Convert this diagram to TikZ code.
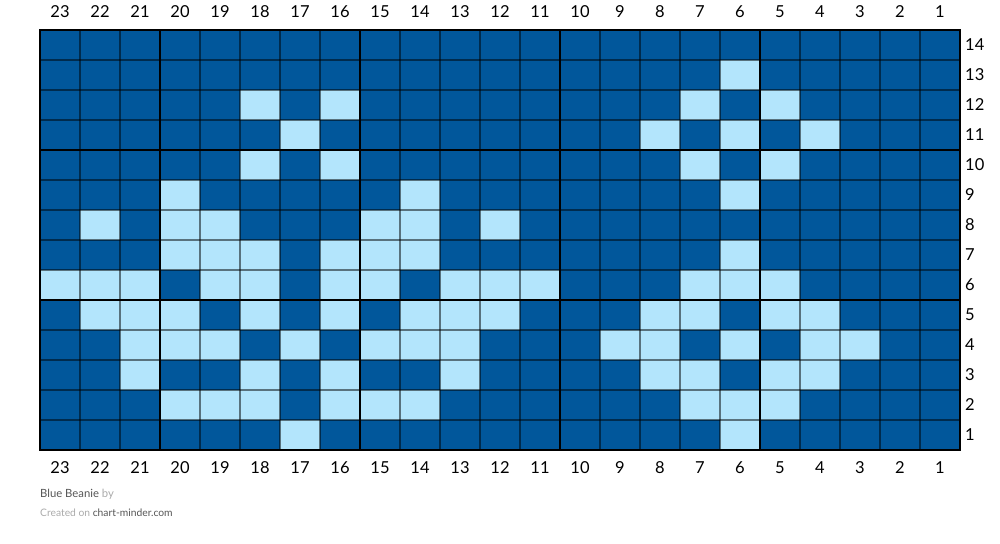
\documentclass[tikz,border=0pt]{standalone}
\usepackage{fontspec}
\setmainfont{Lato}
\definecolor{beaniedark}{HTML}{01579B}
\definecolor{beanielight}{HTML}{B3E5FC}
\definecolor{footdark}{HTML}{555555}
\definecolor{footlight}{HTML}{AAAAAA}
\tikzset{
  numlabel/.style={font=\fontsize{16.5}{16.5}\selectfont, inner sep=0pt},
  gridline/.style={black, opacity=0.5, line width=1.2pt},
  blockline/.style={black, line width=2.2pt},
  footnote/.style={anchor=west, inner sep=0pt},
}
\begin{document}
\begin{tikzpicture}[x=1pt, y=-1pt]
    \useasboundingbox (0,0) rectangle (1000,543);

    % Background: whole chart in the main colour
    \fill[beaniedark] (40,30) rectangle (960,450);

    % Contrast stitches, row / columns (columns counted from the right)
    \foreach \r/\cols in {13/{6}, 12/{18,16,7,5}, 11/{17,8,6,4}, 10/{18,16,7,5},
        9/{20,14,6}, 8/{22,20,19,15,14,12}, 7/{20,19,18,16,15,14,6},
        6/{23,22,21,19,18,16,15,13,12,11,7,6,5},
        5/{22,21,20,18,16,14,13,12,8,7,5,4},
        4/{21,20,19,17,15,14,13,9,8,6,4,3},
        3/{21,18,16,13,8,7,5,4},
        2/{20,19,18,16,15,14,7,6,5},
        1/{17,6}} {
        \foreach \c in \cols {
            \fill[beanielight] ({40+(23-\c)*40},{30+(14-\r)*30})
                rectangle ++(40,30);
        }
    }

    % Thin cell lines
    \foreach \i in {1,...,22}
        \draw[gridline] ({40+\i*40},30) -- ({40+\i*40},450);
    \foreach \j in {1,...,13}
        \draw[gridline] (40,{30+\j*30}) -- (960,{30+\j*30});

    % Heavy lines every five stitches / rows
    \foreach \x in {160,360,560,760}
        \draw[blockline] (\x,30) -- (\x,450);
    \foreach \y in {150,300}
        \draw[blockline] (40,\y) -- (960,\y);
    \draw[blockline] (40,30) rectangle (960,450);

    % Stitch numbers, top and bottom
    \foreach \c in {1,...,23} {
        \node[numlabel] (top-\c) at ({60+(23-\c)*40},12) {\c};
        \node[numlabel] (bot-\c) at ({60+(23-\c)*40},468) {\c};
    }
    % Row numbers
    \foreach \r in {1,...,14}
        \node[numlabel, anchor=west] (row-\r) at (965,{45+(14-\r)*30}) {\r};

    % Footer
    \node[footnote, font=\fontsize{11.3}{11.3}\selectfont] (title) at (40,494)
        {\textcolor{footdark}{Blue Beanie} \textcolor{footlight}{by}};
    \node[footnote, font=\fontsize{10.3}{10.3}\selectfont] (credit) at (40,513)
        {\textcolor{footlight}{Created on} \textcolor{footdark}{chart-minder.com}};
\end{tikzpicture}
\end{document}
